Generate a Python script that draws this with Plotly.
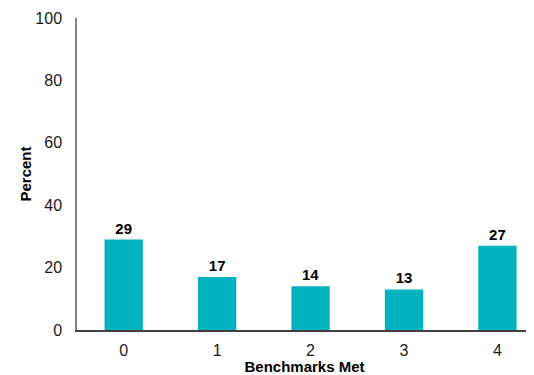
import plotly.graph_objects as go

categories = ["0", "1", "2", "3", "4"]
percent = [29, 17, 14, 13, 27]

fig = go.Figure(
    go.Bar(
        x=categories,
        y=percent,
        text=[str(v) for v in percent],
        textposition="outside",
        textfont=dict(family="Liberation Sans", size=15, color="#000000", weight="bold"),
        marker=dict(color="#00B2BE", line=dict(width=0)),
        width=0.41,
        cliponaxis=False,
    )
)

# the page body adds an 8px margin, so the figure is sized to fit the window
fig.update_layout(
    width=526,
    height=367,
    paper_bgcolor="white",
    plot_bgcolor="white",
    font=dict(family="Liberation Sans", size=16, color="#1a1a1a"),
    margin=dict(t=10, b=45, l=69, r=2),
    showlegend=False,
)
fig.update_xaxes(
    type="category",
    range=[-0.5, 4.37],
    automargin=False,
    showline=True,
    linecolor="#404040",
    linewidth=1.5,
    showgrid=False,
    ticks="",
    ticklabelstandoff=5,
    title=dict(text="<b>Benchmarks Met</b>", standoff=0, font=dict(size=15, color="#000000")),
)
fig.update_yaxes(
    range=[0, 100],
    dtick=20,
    automargin=False,
    showline=True,
    linecolor="#808080",
    linewidth=1.5,
    showgrid=False,
    zeroline=False,
    ticks="",
    ticklabelstandoff=10,
    title=dict(text="<b>Percent</b>", standoff=0, font=dict(size=15, color="#000000")),
)

fig.write_html("out.html")
